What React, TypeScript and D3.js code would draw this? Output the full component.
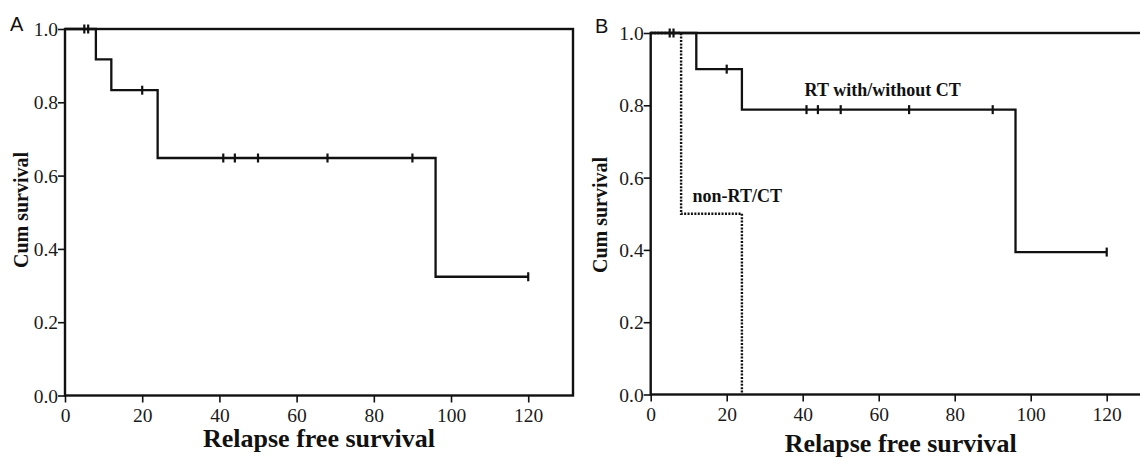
import * as d3 from "d3";
import React, { useEffect, useRef } from "react";

// axis ticks
const timeTicks = [0, 20, 40, 60, 80, 100, 120];
const survTicks = [0, 0.2, 0.4, 0.6, 0.8, 1.0];

// panel A: all patients
const aStepTimes = [0, 8, 12, 24, 96];
const aStepSurv = [1, 0.917, 0.833, 0.648, 0.324];
const aEnd = 120;
const aCensor = [5, 6, 20, 41, 44, 50, 68, 90, 120];

// panel B: RT with/without CT
const rtStepTimes = [0, 12, 24, 96];
const rtStepSurv = [1, 0.9, 0.788, 0.394];
const rtEnd = 120;
const rtCensor = [5, 6, 20, 41, 44, 50, 68, 90, 120];

// panel B: non-RT/CT
const nonStepTimes = [0, 8, 24];
const nonStepSurv = [1, 0.5, 0];
const nonEnd = 24;

const W = 1140;
const H = 461;
const SERIF = "'Liberation Serif', 'Times New Roman', serif";

type Curve = {
  times: number[];
  surv: number[];
  end: number;
  censor: number[];
  dotted?: boolean;
};

type Panel = {
  letter: string;
  letterX: number;
  letterY: number;
  left: number;
  right: number;
  top: number;
  bottom: number;
  yLabelX: number;
  yLabelY: number;
  xLabelY: number;
  curves: Curve[];
};

const panels: Panel[] = [
  {
    letter: "A",
    letterX: 10,
    letterY: 31,
    left: 65,
    right: 573,
    top: 29,
    bottom: 395.5,
    yLabelX: 28,
    yLabelY: 210,
    xLabelY: 447,
    curves: [{ times: aStepTimes, surv: aStepSurv, end: aEnd, censor: aCensor }],
  },
  {
    letter: "B",
    letterX: 595,
    letterY: 33,
    left: 650.7,
    right: 1150.8,
    top: 33,
    bottom: 394.5,
    yLabelX: 607,
    yLabelY: 215,
    xLabelY: 452,
    curves: [
      { times: rtStepTimes, surv: rtStepSurv, end: rtEnd, censor: rtCensor },
      { times: nonStepTimes, surv: nonStepSurv, end: nonEnd, censor: [], dotted: true },
    ],
  },
];

const App = () => {
  const svgRef = useRef<SVGSVGElement>(null);

  useEffect(() => {
    const svg = d3.select(svgRef.current);
    svg.selectAll("*").remove();

    svg.append("rect").attr("width", W).attr("height", H).attr("fill", "#fff");

    panels.forEach((p) => {
      const x = d3.scaleLinear().domain([0, 131.6]).range([p.left, p.right]);
      const y = d3.scaleLinear().domain([0, 1]).range([p.bottom, p.top]);
      const g = svg.append("g");

      // frame
      g.append("rect")
        .attr("x", p.left)
        .attr("y", p.top)
        .attr("width", p.right - p.left)
        .attr("height", p.bottom - p.top)
        .attr("fill", "none")
        .attr("stroke", "#111")
        .attr("stroke-width", 2.4);

      // bottom axis
      const xAxis = g
        .append("g")
        .attr("transform", `translate(0,${p.bottom})`)
        .call(d3.axisBottom(x).tickValues(timeTicks).tickSize(7).tickFormat(d3.format("d")))
        .attr("font-family", SERIF)
        .attr("font-size", 19.5);
      xAxis.select(".domain").remove();
      xAxis.selectAll("line").attr("stroke", "#111").attr("stroke-width", 1.6);
      xAxis
        .selectAll("text")
        .attr("y", 26)
        .attr("dy", 0)
        .attr("fill", "#1a1a1a")
        .style("font-family", SERIF)
        .style("font-size", "19.5px");

      // left axis
      const yAxis = g
        .append("g")
        .attr("transform", `translate(${p.left},0)`)
        .call(d3.axisLeft(y).tickValues(survTicks).tickSize(7).tickFormat(d3.format(".1f")))
        .attr("font-family", SERIF)
        .attr("font-size", 19.5);
      yAxis.select(".domain").remove();
      yAxis.selectAll("line").attr("stroke", "#111").attr("stroke-width", 1.6);
      yAxis
        .selectAll("text")
        .attr("x", -7)
        .attr("dy", "0.34em")
        .attr("fill", "#1a1a1a")
        .style("font-family", SERIF)
        .style("font-size", "19.5px");

      // titles
      g.append("text")
        .attr("x", (p.left + p.right) / 2)
        .attr("y", p.xLabelY)
        .attr("text-anchor", "middle")
        .style("font-family", SERIF)
        .style("font-weight", "bold")
        .style("font-size", "26px")
        .attr("fill", "#111")
        .text("Relapse free survival");

      g.append("text")
        .attr("transform", `translate(${p.yLabelX},${p.yLabelY}) rotate(-90)`)
        .attr("text-anchor", "middle")
        .style("font-family", SERIF)
        .style("font-weight", "bold")
        .style("font-size", "20px")
        .attr("fill", "#111")
        .text("Cum survival");

      g.append("text")
        .attr("x", p.letterX)
        .attr("y", p.letterY)
        .style("font-family", "'Liberation Sans', Arial, sans-serif")
        .style("font-size", "20px")
        .attr("fill", "#111")
        .text(p.letter);

      // survival curves
      const line = d3
        .line<[number, number]>()
        .x((d) => x(d[0]))
        .y((d) => y(d[1]))
        .curve(d3.curveStepAfter);

      p.curves.forEach((c) => {
        const pts: [number, number][] = c.times.map((t, i) => [t, c.surv[i]]);
        pts.push([c.end, c.surv[c.surv.length - 1]]);
        g.append("path")
          .datum(pts)
          .attr("fill", "none")
          .attr("stroke", "#111")
          .attr("stroke-width", c.dotted ? 2.4 : 2.3)
          .attr("stroke-dasharray", c.dotted ? "2,1.4" : null)
          .attr("d", line);

        const survAt = (t: number) => {
          let s = c.surv[0];
          c.times.forEach((tt, i) => {
            if (tt <= t) s = c.surv[i];
          });
          return s;
        };
        g.selectAll(null)
          .data(c.censor)
          .join("line")
          .attr("x1", (t) => x(t))
          .attr("x2", (t) => x(t))
          .attr("y1", (t) => y(survAt(t)) - 4.5)
          .attr("y2", (t) => y(survAt(t)) + 4.5)
          .attr("stroke", "#111")
          .attr("stroke-width", 2.2);
      });
    });

    // curve labels in panel B
    const xb = d3.scaleLinear().domain([0, 131.6]).range([650.7, 1150.8]);
    const yb = d3.scaleLinear().domain([0, 1]).range([394.5, 33]);
    svg
      .append("text")
      .attr("x", xb(40.5))
      .attr("y", yb(0.825))
      .style("font-family", SERIF)
      .style("font-weight", "bold")
      .style("font-size", "18px")
      .attr("fill", "#111")
      .text("RT with/without CT");
    svg
      .append("text")
      .attr("x", xb(11))
      .attr("y", yb(0.533))
      .style("font-family", SERIF)
      .style("font-weight", "bold")
      .style("font-size", "18px")
      .attr("fill", "#111")
      .text("non-RT/CT");
  }, []);

  return (
    <svg
      ref={svgRef}
      width={W}
      height={H}
      style={{ position: "absolute", left: 0, top: 0, display: "block" }}
    ></svg>
  );
};

export default App;
